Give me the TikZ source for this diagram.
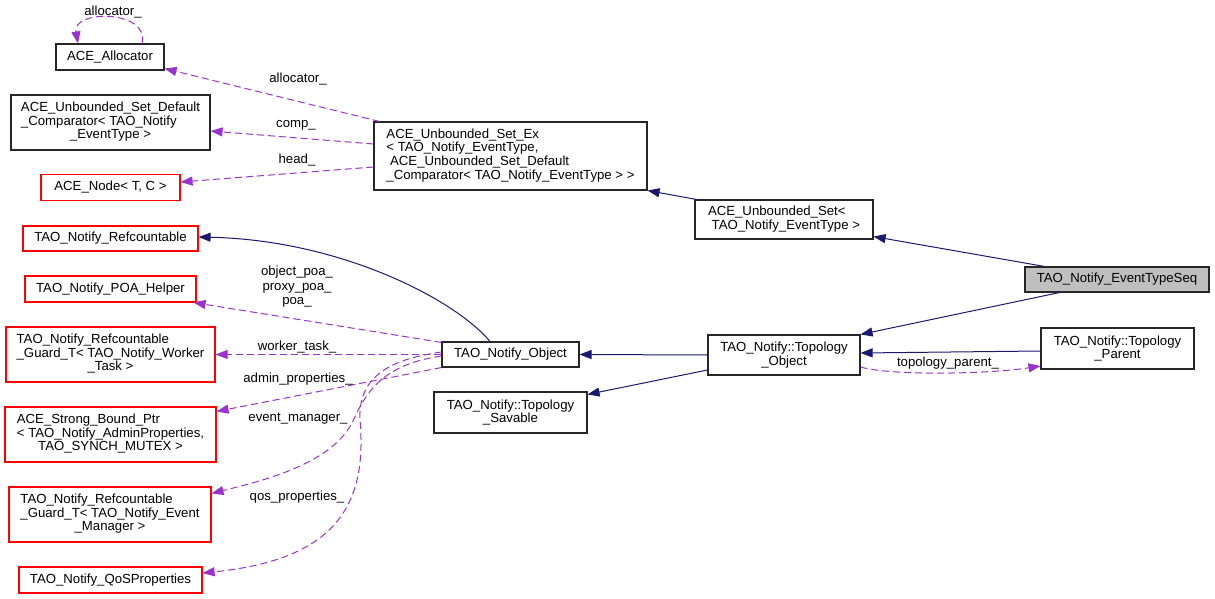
\documentclass[tikz,border=0pt]{standalone}
\usepackage{fontspec}
\setmainfont{Liberation Sans}
\usetikzlibrary{arrows.meta}

\definecolor{inhblue}{HTML}{191970}
\definecolor{usepurple}{HTML}{9A32CD}
\definecolor{boxred}{HTML}{FF0000}

% left aligned lines, last one centred
\newcommand{\leftlines}[1]{\begin{tabular}{@{}l@{}}#1\end{tabular}}
\newcommand{\lastline}[1]{\multicolumn{1}{@{}c@{}}{#1}}

\begin{document}
\begin{tikzpicture}[
    x=1pt, y=-1pt,
    every node/.style={font=\fontsize{13.2}{13.5}\selectfont},
    cls/.style={draw=black!85, line width=1.1pt, fill=white, inner sep=0pt, align=center},
    ext/.style={cls, draw=boxred},
    cur/.style={cls, fill=black!25},
    inh/.style={inhblue, line width=1pt, -{Triangle[length=12pt,width=9pt]}},
    use/.style={usepurple, line width=1pt, dash pattern=on 7pt off 4pt, -{Triangle[length=12pt,width=9pt]}},
    lbl/.style={inner sep=0pt}
]

\useasboundingbox (0,0) rectangle (1215,599);

% =========================
% SET CLASSES
% =========================
\node[cls, minimum width=108pt, minimum height=26pt] (alloc) at (110,57) {ACE\_Allocator};
\node[cls, minimum width=199pt, minimum height=55pt] (comp) at (110.5,122.5)
    {\leftlines{ACE\_Unbounded\_Set\_Default\\ \_Comparator< TAO\_Notify\\ \lastline{\_EventType >}}};
\node[ext, minimum width=139pt, minimum height=26pt] (acenode) at (110.5,187.5) {ACE\_Node< T, C >};
\node[cls, minimum width=273pt, minimum height=68pt] (setex) at (510.5,156)
    {\leftlines{ACE\_Unbounded\_Set\_Ex\\ < TAO\_Notify\_EventType,\\ \ ACE\_Unbounded\_Set\_Default\\ \_Comparator< TAO\_Notify\_EventType > >}};
\node[cls, minimum width=178pt, minimum height=39pt] (uset) at (784,219.5)
    {\leftlines{ACE\_Unbounded\_Set<\\ \ TAO\_Notify\_EventType >}};
\node[cur, minimum width=184pt, minimum height=25pt] (seq) at (1117,279.5) {TAO\_Notify\_EventTypeSeq};

% =========================
% TOPOLOGY CLASSES
% =========================
\node[cls, minimum width=153pt, minimum height=41pt] (tparent) at (1117.5,348.5) {TAO\_Notify::Topology\\\_Parent};
\node[cls, minimum width=152pt, minimum height=40pt] (tobject) at (784,355) {TAO\_Notify::Topology\\\_Object};
\node[cls, minimum width=137pt, minimum height=25pt] (nobject) at (510.5,354.5) {TAO\_Notify\_Object};
\node[cls, minimum width=153pt, minimum height=41pt] (tsavable) at (510.5,412.5) {TAO\_Notify::Topology\\\_Savable};

% =========================
% MEMBER CLASSES
% =========================
\node[ext, minimum width=175pt, minimum height=25pt] (refc) at (110.5,238.5) {TAO\_Notify\_Refcountable};
\node[ext, minimum width=171pt, minimum height=26pt] (poa) at (110.5,289) {TAO\_Notify\_POA\_Helper};
\node[ext, minimum width=209pt, minimum height=55pt] (gworker) at (110.5,354.5)
    {\leftlines{TAO\_Notify\_Refcountable\\ \_Guard\_T< TAO\_Notify\_Worker\\ \lastline{\_Task >}}};
\node[ext, minimum width=211pt, minimum height=55pt] (strong) at (110.5,434.5)
    {\leftlines{ACE\_Strong\_Bound\_Ptr\\ < TAO\_Notify\_AdminProperties,\\ \lastline{TAO\_SYNCH\_MUTEX >}}};
\node[ext, minimum width=202pt, minimum height=55pt] (gevent) at (110,514.5)
    {\leftlines{TAO\_Notify\_Refcountable\\ \_Guard\_T< TAO\_Notify\_Event\\ \lastline{\_Manager >}}};
\node[ext, minimum width=183pt, minimum height=26pt] (qos) at (110.5,580) {TAO\_Notify\_QoSProperties};

% =========================
% INHERITANCE
% =========================
\draw[inh] ([xshift=2pt]uset.north west) -- (setex.south east);
\draw[inh] ([xshift=20pt]seq.north west) -- ([yshift=3pt]uset.south east);
\draw[inh] ([xshift=35pt]seq.south west) -- (tobject.north east);
\draw[inh] ([yshift=-2.5pt]tparent.west) -- ([yshift=2pt]tobject.east);
\draw[inh] (tobject.west) -- (nobject.east);
\draw[inh] ([yshift=-15pt]tobject.west) -- ([yshift=-3pt]tsavable.north east);
\draw[inh] ([xshift=-20.5pt]nobject.north) .. controls +(-35,-42) and +(142,3) .. ([yshift=1.5pt]refc.east);

% =========================
% USAGE
% =========================
\draw[use] ([xshift=32pt]alloc.north) .. controls +(8,-34) and +(-6,-34) .. ([xshift=-32pt]alloc.north);
\draw[use] ([xshift=6pt]setex.north west) -- ([yshift=2pt]alloc.south east);
\draw[use] ([yshift=12pt]setex.west) -- ([yshift=-8.5pt]comp.east);
\draw[use] ([yshift=-11pt]setex.west) -- ([yshift=5.5pt]acenode.east);

\coordinate (evbend) at (352,423);
\coordinate (qosbend) at (360,420);
\draw[use] ([yshift=-1pt]nobject.north west) -- ([xshift=-3pt]poa.south east);
\draw[use] (nobject.west) -- (gworker.east);
\draw[use] (nobject.south west) -- ([yshift=-5pt]strong.north east);
\draw[use] ([yshift=-1.5pt]nobject.west) .. controls +(-62,9) and +(13,-28) .. (evbend)
    .. controls +(-22,42) and +(48,-12) .. ([yshift=-7pt]gevent.north east);
\draw[use] ([yshift=2.5pt]nobject.west) .. controls +(-57,8) and +(-2,-40) .. (qosbend)
    .. controls +(8,90) and +(128,-13) .. ([yshift=7pt]qos.east);
\draw[use] ([yshift=-12pt]tobject.east) .. controls +(30,9) and +(-51,8) .. ([yshift=-17.5pt]tparent.west);

% labels
\node[lbl] (lallocself) at (113,12) {allocator\_};
\node[lbl] (lalloc) at (298,79) {allocator\_};
\node[lbl] (lcomp) at (296,125) {comp\_};
\node[lbl] (lhead) at (297,160) {head\_};
\node[lbl, align=center, font=\fontsize{13.2}{14.5}\selectfont] (lpoa) at (297,287) {object\_poa\_\\proxy\_poa\_\\poa\_};
\node[lbl] (lworker) at (297,347) {worker\_task\_};
\node[lbl] (ladmin) at (298,379) {admin\_properties\_};
\node[lbl] (levent) at (298,419) {event\_manager\_};
\node[lbl] (lqos) at (297,497) {qos\_properties\_};
\node[lbl] (ltparent) at (948,363) {topology\_parent\_};
\end{tikzpicture}
\end{document}
